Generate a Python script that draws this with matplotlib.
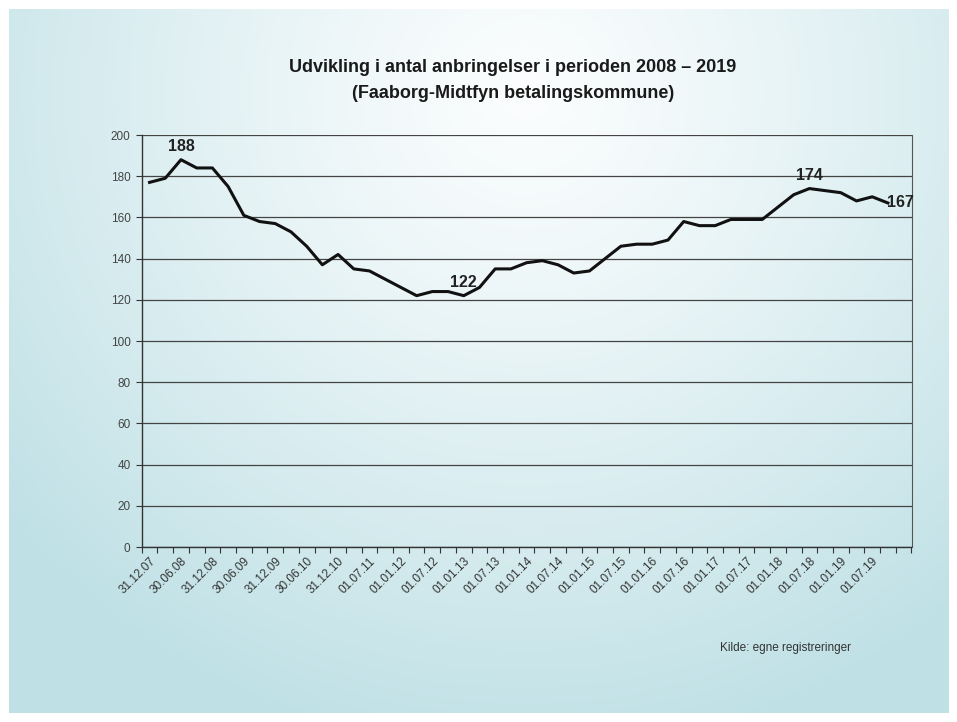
import matplotlib.pyplot as plt
import matplotlib.transforms as mtransforms
import numpy as np

plt.rcParams['font.family'] = ['Liberation Sans', 'DejaVu Sans']

# quarterly counts, 31.12.07 .. 01.10.19
values = [177, 179, 188, 184, 184, 175, 161, 158, 157, 153, 146, 137,
          142, 135, 134, 130, 126, 122, 124, 124, 122, 126, 135, 135,
          138, 139, 137, 133, 134, 140, 146, 147, 147, 149, 158, 156,
          156, 159, 159, 159, 165, 171, 174, 173, 172, 168, 170, 167]
n_categories = 49

# shown on every second quarter
tick_labels = ["31.12.07", "30.06.08", "31.12.08", "30.06.09", "31.12.09",
               "30.06.10", "31.12.10", "01.07.11", "01.01.12", "01.07.12",
               "01.01.13", "01.07.13", "01.01.14", "01.07.14", "01.01.15",
               "01.07.15", "01.01.16", "01.07.16", "01.01.17", "01.07.17",
               "01.01.18", "01.07.18", "01.01.19", "01.07.19"]

peak_idx = [2, 20, 42]   # labelled above the line
last_idx = 47            # labelled to the right

W, H = 957, 722
fig = plt.figure(figsize=(W / 100, H / 100), dpi=100)
fig.patch.set_facecolor('white')

# slide-like background gradient
bg = fig.add_axes([9 / W, 9 / H, 939 / W, 704 / H])
bg.axis('off')
gx, gy = np.meshgrid(np.linspace(0, 1, 300), np.linspace(0, 1, 230))
d = np.sqrt(((gx - 0.55) / 0.72) ** 2 + ((gy - 0.12) / 0.95) ** 2)
d = np.clip(d, 0, 1) ** 1.2
c0 = np.array([0.985, 0.993, 0.995])
c1 = np.array([0.75, 0.88, 0.90])
img = c0 + (c1 - c0) * d[..., None]
bg.imshow(img, aspect='auto', extent=[0, 1, 1, 0])
bg.set_xlim(0, 1)
bg.set_ylim(1, 0)

ax = fig.add_axes([141.7 / W, 1 - 547 / H, (911.5 - 141.7) / W, (547 - 135) / H])
ax.patch.set_alpha(0)

x = np.arange(len(values))
ax.plot(x, values, color='#111111', linewidth=2.2, zorder=3)

ax.set_xlim(-0.5, n_categories - 0.5)
ax.set_ylim(0, 200)
ax.set_yticks(np.arange(0, 201, 20))
ax.yaxis.grid(True, color='#444444', linewidth=0.9)
ax.set_axisbelow(True)

ax.set_xticks(np.arange(0, 2 * len(tick_labels), 2))
ax.set_xticklabels(tick_labels, rotation=45, ha='right', rotation_mode='anchor',
                   fontsize=8.5, color='#333333')
shift = mtransforms.ScaledTranslation(-3 / 72, 0, fig.dpi_scale_trans)
for lab in ax.get_xticklabels():
    lab.set_transform(lab.get_transform() + shift)
ax.set_xticks(np.arange(-0.5, n_categories, 1), minor=True)
ax.tick_params(axis='x', which='major', length=0, pad=6)
ax.tick_params(axis='x', which='minor', length=4, width=0.8, color='#333333')
ax.tick_params(axis='y', length=4, width=0.8, color='#333333', labelsize=8.5,
               labelcolor='#444444', pad=4)

for s in ['left', 'bottom']:
    ax.spines[s].set_color('#333333')
    ax.spines[s].set_linewidth(1.0)
ax.spines['right'].set_color('#555555')
ax.spines['top'].set_visible(False)

for i in peak_idx:
    ax.annotate(str(values[i]), (i, values[i]), xytext=(0, 4),
                textcoords='offset points', ha='center', va='bottom',
                fontsize=11.5, fontweight='bold', color='#222222')
ax.annotate(str(values[last_idx]), (last_idx, values[last_idx]), xytext=(-1, 0),
            textcoords='offset points', ha='left', va='center',
            fontsize=11.5, fontweight='bold', color='#222222')

fig.text(513 / W, 1 - 68 / H, "Udvikling i antal anbringelser i perioden 2008 – 2019",
         ha='center', va='center', fontsize=13, fontweight='bold', color='#1a1a1a')
fig.text(513 / W, 1 - 93 / H, "(Faaborg-Midtfyn betalingskommune)",
         ha='center', va='center', fontsize=13, fontweight='bold', color='#1a1a1a')
fig.text(720 / W, 1 - 648 / H, "Kilde: egne registreringer",
         ha='left', va='center', fontsize=8.5, color='#333333')

fig.savefig("out.png", dpi=100)
